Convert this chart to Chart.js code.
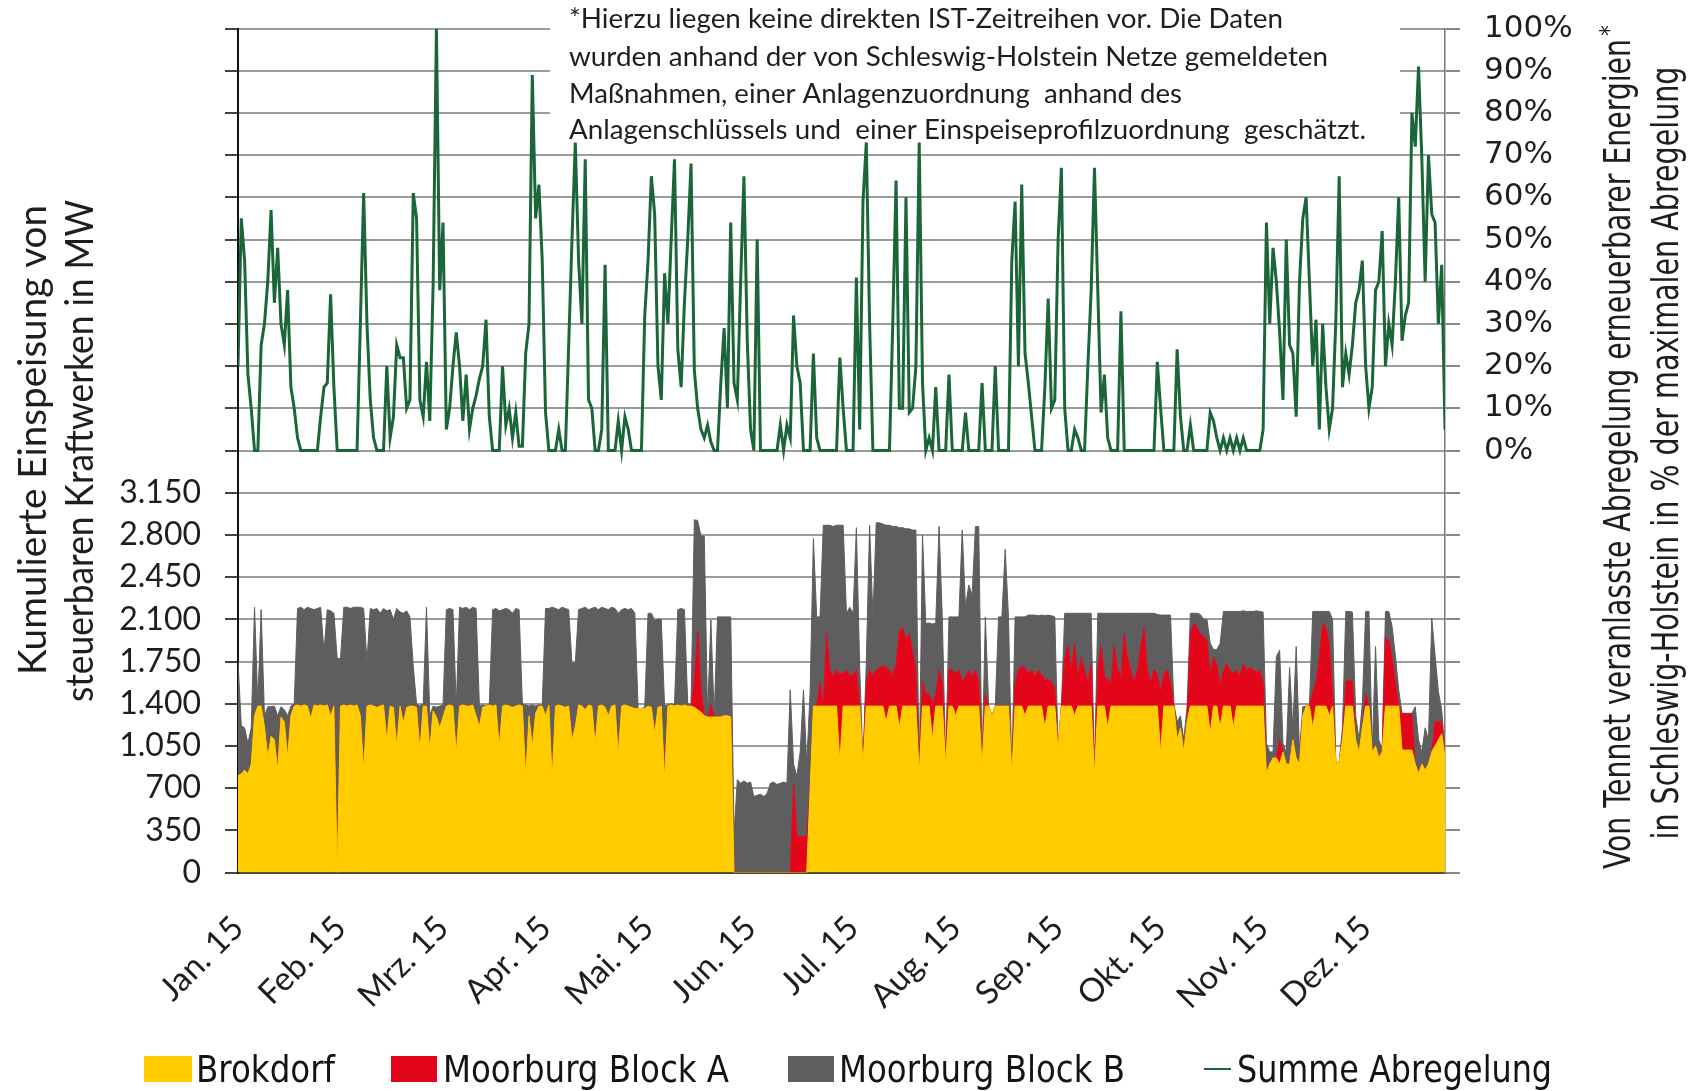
<!DOCTYPE html>
<html><head><meta charset="utf-8">
<script src="https://cdn.jsdelivr.net/npm/chart.js@4.4.1/dist/chart.umd.min.js"></script>
<style>html,body{margin:0;padding:0;background:#fff;overflow:hidden}#wrap{width:1693px;height:1091px;position:relative}</style>
</head><body><div id="wrap"><canvas id="c"></canvas></div>
<script>
const monthLabels = ['Jan. 15','Feb. 15','Mrz. 15','Apr. 15','Mai. 15','Jun. 15','Jul. 15','Aug. 15','Sep. 15','Okt. 15','Nov. 15','Dez. 15'];
const monthTicks = [0,31,62,93,124,155,186,217,248,279,310,341];

// Summe Abregelung in % (daily)
const abregelung = [
20,55,45,18,10,0,0,25,30,40,
57,35,48,30,25,38,15,10,3,0,
0,0,0,0,0,8,15,16,37,15,
0,0,0,0,0,0,0,30,61,30,
12,3,0,0,0,20,3,8,25,22,
22,10,12,61,55,12,8,21,7,39,
100,38,54,5,10,20,28,20,7,18,
5,10,13,17,20,31,8,0,0,0,
20,6,10,3,9,1,1,23,30,89,
55,63,45,9,0,0,0,5,0,0,
25,50,73,45,30,69,12,10,0,0,
5,44,0,0,0,7,0,8,5,0,
0,0,0,32,45,65,56,20,12,42,
30,50,69,24,15,35,50,68,19,10,
5,3,6,2,0,0,16,29,10,54,
16,12,40,65,26,5,0,50,0,0,
0,0,0,0,6,0,6,3,32,20,
16,0,0,0,23,3,0,0,0,0,
0,0,22,10,0,0,0,41,5,59,
73,30,0,0,0,0,0,0,30,64,
10,10,60,9,10,20,73,16,0,3,
0,15,0,0,0,18,0,0,0,0,
9,0,0,0,0,16,0,0,0,20,
0,0,0,0,45,59,20,63,23,16,
8,0,0,0,15,36,10,12,50,67,
10,0,0,5,3,0,0,20,38,67,
38,9,18,3,0,0,0,33,0,0,
0,0,0,0,0,0,0,0,21,10,
0,0,0,0,24,8,0,0,6,0,
0,0,0,0,9,7,3,0,3,0,
3,0,3,0,3,0,0,0,0,0,
5,54,30,48,40,28,12,50,25,23,
8,40,55,60,40,20,31,5,30,15,
5,10,31,65,15,23,18,25,35,38,
45,20,10,15,38,40,52,20,30,25,
40,60,26,32,35,80,72,91,69,40,
70,56,54,30,44,5];

// Brokdorf in MW (daily)
const brokdorf = [
800,820,850,820,900,1300,1380,1380,1210,960,
1130,1100,850,1290,1250,960,1300,1380,1390,1380,
1390,1380,1280,1390,1380,1390,1380,1390,1300,1380,
0,1380,1390,1380,1390,1380,1390,1300,850,1380,
1390,1380,1370,1380,1390,1100,1380,1370,1045,1380,
1240,1370,1380,1380,1370,1015,1380,1380,1015,1340,
1290,1200,1290,1380,1390,1380,990,1380,1390,1380,
1380,1390,1300,1210,1370,1380,1390,1380,1390,1045,
1380,1390,1380,1370,1380,1390,1380,795,1300,1045,
1320,1380,1380,1300,1390,780,1380,1390,1380,1370,
1380,1100,1210,1390,1380,1350,1390,1380,1070,1380,
1390,1370,1300,1380,1390,985,1380,1390,1380,1370,
1360,1360,1360,1360,1380,1370,1155,1370,1380,770,
1380,1390,1380,1390,1380,1390,1380,1380,1370,1350,
1330,1300,1290,1290,1290,1290,1290,1300,1300,1290,
0,0,0,0,0,0,0,0,0,0,
0,0,0,0,0,0,0,0,0,0,
0,0,0,690,1380,1380,1380,1380,1380,1380,
1380,1380,900,1380,1380,1380,1380,1380,1380,900,
1380,1380,1380,1380,1380,1380,1250,1380,1380,1380,
1200,1380,1380,1380,1380,1380,820,1380,1380,1380,
1100,1380,1380,1380,900,1380,1380,1300,1380,1380,
1380,1380,1380,1380,1380,890,1380,1380,1300,1380,
1380,1380,1380,1380,820,1380,1380,1380,1300,1380,
1380,1380,1380,1380,1200,1380,1380,1380,1015,1380,
1380,1380,1380,1300,1380,1380,1380,1380,1380,810,
1380,1380,1380,1200,1380,1380,1380,1380,1380,1380,
1380,1380,1380,1380,1380,1380,1380,1380,1380,990,
1380,1380,1380,1380,1100,1200,1000,1250,1380,1380,
1380,1380,1380,1380,1150,1380,1380,1200,1380,1380,
1380,1200,1380,1380,1380,1380,1380,1380,1380,1380,
1380,820,900,950,950,900,1000,900,900,1100,
950,900,1300,1380,1380,1200,1380,1380,1380,1380,
1300,1380,900,920,1100,1380,1380,1380,1100,1000,
1200,1380,1380,1000,1050,950,1000,1380,1380,1380,
1380,1380,1015,1015,1015,1015,900,820,900,850,
900,1000,1050,1100,1150,960];

// Moorburg Block A in MW (daily)
const moorburgA = [
0,0,0,0,0,0,0,0,0,0,
0,0,0,0,0,0,0,0,0,0,
0,0,0,0,0,0,0,0,0,0,
0,0,0,0,0,0,0,0,0,0,
0,0,0,0,0,0,0,0,0,0,
0,0,0,0,0,0,0,0,0,0,
0,0,0,0,0,0,0,0,0,0,
0,0,0,0,0,0,0,0,0,0,
0,0,0,0,0,0,0,0,0,0,
0,0,0,0,0,0,0,0,0,0,
0,0,0,0,0,0,0,0,0,0,
0,0,0,0,0,0,0,0,0,0,
0,0,0,0,0,0,0,0,0,0,
0,0,0,0,0,0,0,0,230,650,
200,0,0,100,0,0,0,0,0,0,
0,0,0,0,0,0,0,0,0,0,
0,0,0,0,0,0,0,0,740,300,
300,300,300,0,0,0,200,0,600,300,
250,300,750,270,300,250,270,300,0,0,
200,300,250,300,320,330,450,300,250,350,
800,650,550,600,450,300,0,200,100,100,
300,100,300,200,0,300,300,350,300,200,
250,300,250,300,200,0,100,0,0,0,
0,0,0,0,0,200,300,330,400,270,
300,250,300,260,400,220,200,150,0,0,
400,500,300,600,250,400,300,200,350,0,
300,500,250,400,200,500,300,250,600,400,
300,200,300,500,650,300,200,300,270,500,
270,300,200,0,0,0,0,0,600,690,
650,600,580,550,500,400,350,350,300,350,
300,450,300,250,350,300,320,300,280,300,
200,0,0,0,0,200,0,0,0,0,
0,0,0,0,0,300,200,400,690,650,
600,100,0,0,0,200,220,200,0,0,
0,100,0,0,0,0,0,570,550,400,
200,0,300,300,300,300,0,0,0,0,
0,0,200,150,100,0];

// Moorburg Block B in MW (daily)
const moorburgB = [
950,400,350,250,300,900,20,800,90,415,
245,280,450,85,100,340,80,20,800,820,
790,820,910,790,810,810,450,790,870,770,
1775,395,810,820,800,820,810,900,1340,370,
800,800,820,770,800,1070,800,730,1145,780,
910,800,740,330,30,365,20,820,285,40,
80,180,100,800,800,800,390,820,800,820,
800,810,890,170,20,0,10,800,800,1125,
800,800,800,780,810,790,20,595,80,345,
60,10,10,890,800,1420,810,790,820,820,
800,635,530,790,810,850,790,810,1130,800,
810,820,880,820,800,1165,800,800,800,820,
790,0,0,10,770,780,935,730,720,610,
10,10,10,790,810,790,20,10,1325,920,
1260,1490,10,705,10,830,830,820,820,830,
325,770,740,760,740,750,630,640,650,630,
655,740,750,730,740,750,740,1515,160,500,
700,1215,600,810,1390,740,540,1500,900,1200,
1240,1200,1230,1230,470,570,500,1180,320,0,
170,1200,490,1220,1200,1180,1180,1200,1240,1140,
860,830,920,870,1010,1160,0,1220,585,590,
660,590,1190,520,0,440,440,470,440,1260,
570,705,670,1190,1290,0,640,0,0,0,
740,740,1300,740,0,540,440,410,420,485,
455,505,450,495,530,535,550,590,0,0,
370,270,470,250,520,370,470,570,420,0,
470,270,520,550,570,270,470,520,170,370,
470,570,470,270,120,470,570,470,490,645,
485,455,555,20,150,100,100,125,170,80,
120,160,140,170,250,70,120,350,485,435,
485,515,485,535,440,485,465,485,510,485,
580,250,100,50,840,745,70,100,800,100,
925,100,75,0,0,665,585,385,95,135,
265,620,0,0,100,585,565,580,200,100,
200,685,785,15,825,150,15,215,235,260,
220,135,5,5,5,5,475,280,100,350,
200,1110,550,250,100,40];

const seriesNames = ['Brokdorf','Moorburg Block A','Moorburg Block B','Summe Abregelung'];
const leftTitle = ['Kumulierte Einspeisung von','steuerbaren Kraftwerken in MW'];
const rightTitle = ['Von Tennet veranlasste Abregelung erneuerbarer Energien','in Schleswig-Holstein in % der maximalen Abregelung'];
const noteLines = [
'*Hierzu liegen keine direkten IST-Zeitreihen vor. Die Daten',
'wurden anhand der von Schleswig-Holstein Netze gemeldeten',
'Maßnahmen, einer Anlagenzuordnung  anhand des',
'Anlagenschlüssels und  einer Einspeiseprofilzuordnung  geschätzt.'];

const days = brokdorf.map((_, i) => i);

function fontOK(f){const c=document.createElement('canvas').getContext('2d');const s='Moorburg Block A abcdefghij 0123';c.font='40px monospace';const a=c.measureText(s).width;c.font='40px "'+f+'", monospace';const b=c.measureText(s).width;return Math.abs(a-b)>1;}
const COND = fontOK('Liberation Sans Narrow') ? 'Liberation Sans Narrow' : (fontOK('DejaVu Sans Condensed') ? 'DejaVu Sans Condensed' : 'Roboto');

function fmtMW(v){ if (v >= 1000) { return Math.floor(v/1000) + '.' + String(v % 1000).padStart(3,'0'); } return String(v); }

// draw text scaled horizontally to a target width
function fitText(ctx, txt, x, y, targetW, rot, align){
  ctx.save();
  ctx.translate(x, y);
  if (rot) ctx.rotate(rot);
  const w = ctx.measureText(txt).width;
  ctx.scale(targetW / w, 1);
  ctx.textAlign = align || 'left';
  ctx.fillText(txt, 0, 0);
  ctx.restore();
}

const YEL = '#FFCC00', RED = '#E3061B', GRY = '#5E5E5E', GRN = '#1B6638';

// legend layout (pixels)
const legendLayout = [
  { kind: 'box',  color: YEL, x: 144,  w: 48, tx: 196,  tw: 139 },
  { kind: 'box',  color: RED, x: 391,  w: 46, tx: 443,  tw: 286 },
  { kind: 'box',  color: GRY, x: 788,  w: 46, tx: 839,  tw: 286 },
  { kind: 'line', color: GRN, x: 1204, w: 27, tx: 1237, tw: 315 }
];

const decor = {
  id: 'decor',
  beforeDatasetsDraw(chart){
    const ctx = chart.ctx;
    ctx.save();
    ctx.fillStyle = '#ffffff';
    ctx.fillRect(550, 0, 850, 150);
    ctx.fillStyle = '#1e1e1e';
    ctx.font = '26px Lato';
    ctx.textBaseline = 'alphabetic';
    const base = [28, 66, 103, 139];
    const widths = [714, 759, 613, 797];
    noteLines.forEach((t, i) => fitText(ctx, t, 569, base[i], widths[i], 0, 'left'));
    ctx.restore();
  },
  afterDraw(chart){
    const ctx = chart.ctx;
    ctx.save();
    ctx.fillStyle = '#1e1e1e';
    ctx.textBaseline = 'middle';
    ctx.font = '38px Lato';
    fitText(ctx, leftTitle[0], 34, 440, 470, -Math.PI/2, 'center');
    fitText(ctx, leftTitle[1], 81, 451, 502, -Math.PI/2, 'center');
    ctx.font = '38px "' + COND + '"';
    fitText(ctx, rightTitle[0], 1620, 454, 830, -Math.PI/2, 'center');
    fitText(ctx, rightTitle[1], 1668, 453, 773, -Math.PI/2, 'center');
    ctx.font = '24px "' + COND + '"';
    ctx.save(); ctx.translate(1611, 36); ctx.rotate(-Math.PI/2); ctx.textAlign = 'left'; ctx.fillText('*', 0, 0); ctx.restore();

    // legend
    ctx.textBaseline = 'alphabetic';
    ctx.font = '38px "' + COND + '"';
    legendLayout.forEach((it, i) => {
      if (it.kind === 'box') {
        ctx.fillStyle = it.color;
        ctx.fillRect(it.x, 1056, it.w, 26);
      } else {
        ctx.strokeStyle = it.color; ctx.lineWidth = 2;
        ctx.beginPath(); ctx.moveTo(it.x, 1069); ctx.lineTo(it.x + it.w, 1069); ctx.stroke();
      }
      ctx.fillStyle = '#141414';
      fitText(ctx, chart.data.datasets[i].label, it.tx, 1082, it.tw, 0, 'left');
    });
    ctx.restore();
  }
};

new Chart(document.getElementById('c'), {
  type: 'line',
  data: {
    labels: days,
    datasets: [
      { label: seriesNames[0], data: brokdorf, yAxisID: 'y', backgroundColor: YEL, borderColor: YEL, borderWidth: 1, fill: 'origin', pointRadius: 0, tension: 0 },
      { label: seriesNames[1], data: moorburgA, yAxisID: 'y', backgroundColor: RED, borderColor: RED, borderWidth: 1, fill: '-1', pointRadius: 0, tension: 0 },
      { label: seriesNames[2], data: moorburgB, yAxisID: 'y', backgroundColor: GRY, borderColor: GRY, borderWidth: 1, fill: '-1', pointRadius: 0, tension: 0 },
      { label: seriesNames[3], data: abregelung, yAxisID: 'y2', backgroundColor: GRN, borderColor: GRN, borderWidth: 3, fill: false, pointRadius: 0, tension: 0, order: -1 }
    ]
  },
  options: {
    responsive: true, maintainAspectRatio: false, animation: false, devicePixelRatio: 1,
    layout: { padding: { top: 28.5, left: 0, right: 0, bottom: 0 } },
    plugins: { tooltip: { enabled: false }, legend: { display: false } },
    scales: {
      x: {
        type: 'linear', min: 0, max: 365,
        afterBuildTicks: s => { s.ticks = monthTicks.map(v => ({ value: v })); },
        afterFit: s => { s.height = 218.5; },
        ticks: { autoSkip: false, minRotation: 45, maxRotation: 45, padding: 36, color: '#1e1e1e',
          font: { family: 'Lato', size: 33 },
          callback: v => monthLabels[monthTicks.indexOf(v)] },
        grid: { display: false, drawTicks: false },
        border: { display: true, color: '#4a4536', width: 2 }
      },
      y: {
        type: 'linear', position: 'left', stacked: true, min: 0, max: 7000,
        afterFit: s => { s.width = 238; s.paddingTop = 0; s.paddingBottom = 0; },
        ticks: { stepSize: 350, autoSkip: false, padding: 24, color: '#1e1e1e',
          font: { family: 'Lato', size: 32 },
          callback: v => (v <= 3150 ? fmtMW(v) : '') },
        grid: { color: '#9c9c9c', lineWidth: 2, tickLength: 13, tickColor: '#444', drawTicks: true },
        border: { display: true, color: '#111', width: 2 }
      },
      y2: {
        type: 'linear', position: 'right', min: -100, max: 100,
        afterFit: s => { s.width = 248; s.paddingTop = 0; s.paddingBottom = 0; },
        ticks: { stepSize: 10, autoSkip: false, padding: 24, color: '#1e1e1e',
          font: { family: 'DejaVu Sans', size: 31 },
          callback: v => (v >= 0 ? v + '%' : '') },
        grid: { drawOnChartArea: false, color: '#888', lineWidth: 2, tickLength: 15, tickColor: '#888', drawTicks: true },
        border: { display: true, color: '#777', width: 1.5 }
      }
    }
  },
  plugins: [decor]
});
</script>
</body></html>
